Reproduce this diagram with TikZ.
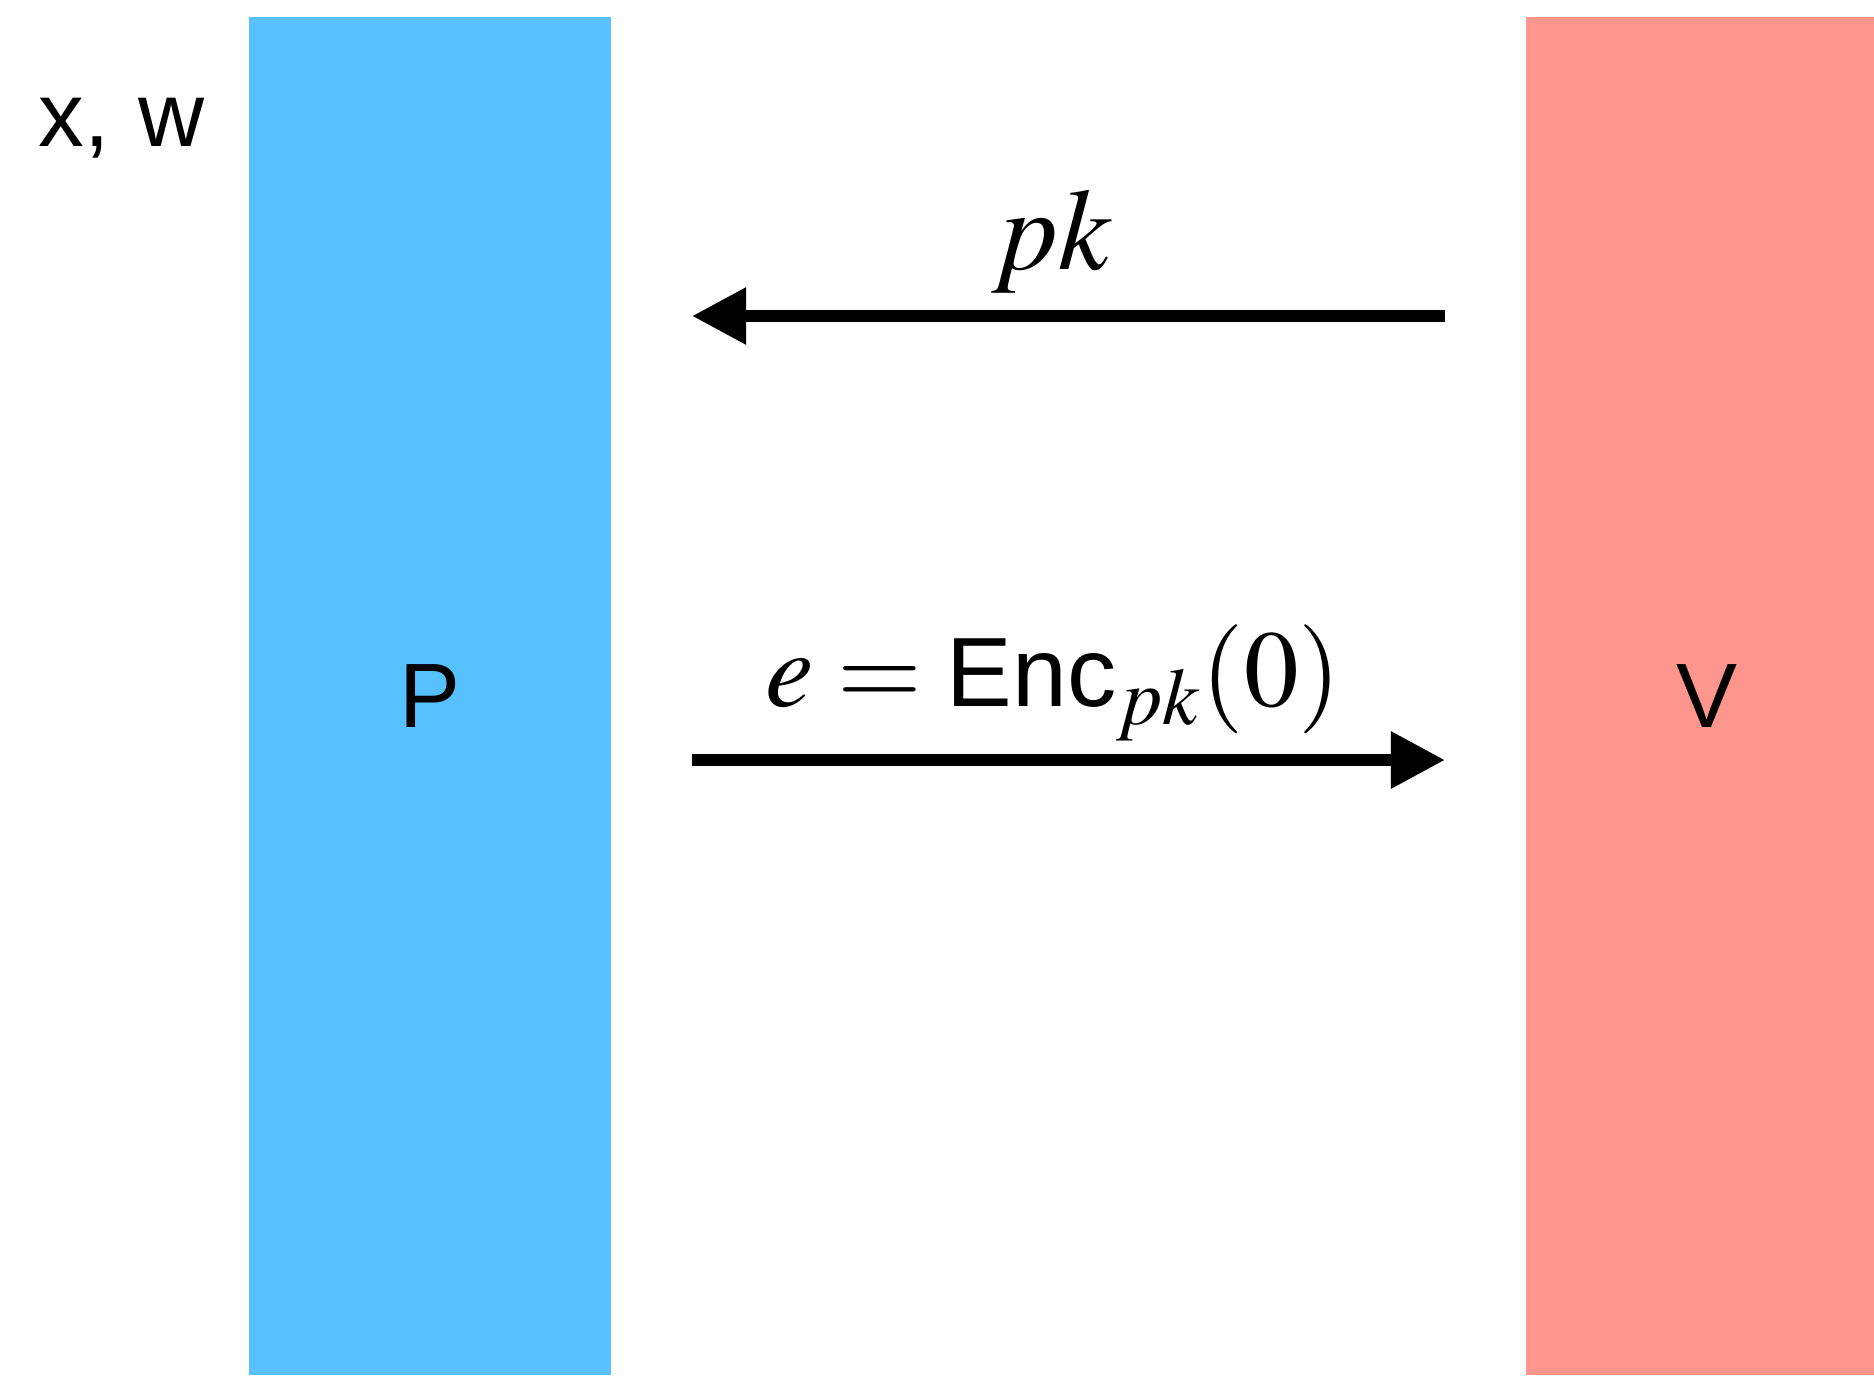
\documentclass[tikz,border=0pt]{standalone}
\usepackage{amsmath}
\usepackage{mathptmx}
\usepackage{fontspec}
\setmainfont{Liberation Sans}
\setsansfont{Liberation Sans}
\usetikzlibrary{arrows.meta,positioning}
\definecolor{proverblue}{HTML}{57C0FF}
\definecolor{verifierred}{HTML}{FF968E}
\tikzset{
  >={Triangle[length=5.4mm,width=5.4mm]},
  % parteer
  party/.style={draw=none,inner sep=0pt,minimum width=3.62cm,minimum height=13.58cm,
                font=\fontsize{26}{30}\selectfont},
  lbl/.style={inner sep=0pt,font=\fontsize{26}{30}\selectfont},
  % meddelanden
  msg/.style={->,draw=black,line width=1.2mm},
  ml/.style={anchor=base,inner sep=0pt,font=\fontsize{33}{38}\selectfont},
}
\begin{document}
\begin{tikzpicture}[x=0.01cm,y=-0.01cm]
\useasboundingbox (0,0) rectangle (1874,1375);
  \node[party,fill=proverblue] (P) at (430,696) {P};
  \node[party,fill=verifierred] (V) at (1707,696) {V};
  \node[lbl,anchor=base west] (xw) at (38,146) {x,\kern1pt{} w};
  \coordinate (pkR) at (1445,316);
  \coordinate (pkL) at (692,316);
  \coordinate (encL) at (692,760);
  \coordinate (encR) at (1445,760);
  \draw[msg] (pkR) -- (pkL);
  \draw[msg] (encL) -- (encR);
  \node[ml] (pk) at (1052,269) {$pk$};
  \node[ml,font=\fontsize{31}{36}\selectfont] (enc) at (1053,706)
    {$e = \textsf{\fontsize{28}{34}\selectfont Enc}_{pk}(0)$};
\end{tikzpicture}
\end{document}
